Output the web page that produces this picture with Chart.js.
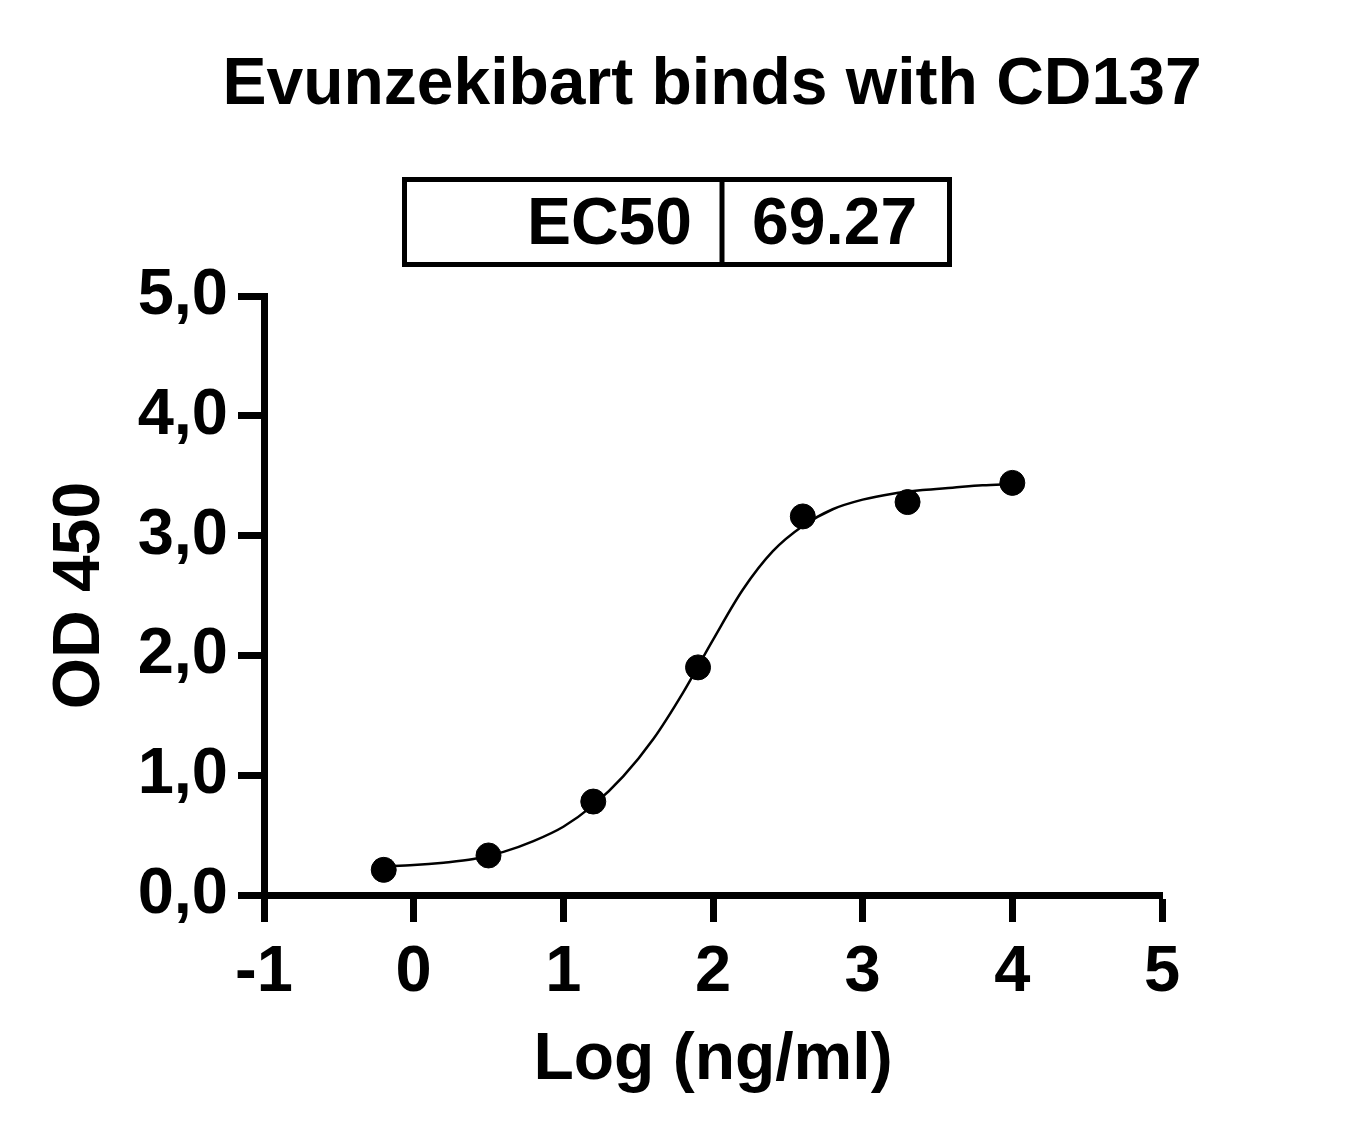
<!DOCTYPE html>
<html>
<head>
<meta charset="utf-8">
<script src="https://cdn.jsdelivr.net/npm/chart.js@4.4.1/dist/chart.umd.min.js"></script>
<style>
  html, body { margin: 0; padding: 0; background: #fff; }
  canvas { display: block; }
</style>
</head>
<body>
<canvas id="ec50Chart" width="1362" height="1142"></canvas>
<script>
// measured points
const logConc = [-0.2, 0.5, 1.2, 1.9, 2.6, 3.3, 4.0];
const od450 = [0.21, 0.33, 0.78, 1.90, 3.16, 3.28, 3.44];

// fitted curve
const curveX = [-0.2, 0.0, 0.2, 0.4, 0.6, 0.8, 1.0, 1.2, 1.4, 1.6, 1.8, 2.0, 2.2, 2.4, 2.6, 2.8, 3.0, 3.2, 3.4, 3.6, 3.8, 4.0];
const curveY = [0.24, 0.25, 0.27, 0.30, 0.36, 0.45, 0.57, 0.75, 0.99, 1.30, 1.69, 2.13, 2.55, 2.87, 3.08, 3.22, 3.30, 3.35, 3.38, 3.40, 3.42, 3.43];

const xTicks = [-1, 0, 1, 2, 3, 4, 5];
const yTicks = [0, 1, 2, 3, 4, 5];

const chartTitle = "Evunzekibart binds with CD137";
const ec50Label = "EC50";
const ec50Value = "69.27";

const FONT = '"Liberation Sans", Arial, sans-serif';

// title + EC50 box on top
const extras = {
    id: "extras",
    afterDraw(chart) {
        const ctx = chart.ctx;
        ctx.save();
        ctx.fillStyle = "#000";
        ctx.font = "bold 66px " + FONT;
        ctx.textAlign = "center";
        ctx.textBaseline = "alphabetic";
        ctx.fillText(chartTitle, 712, 104);

        ctx.strokeStyle = "#000";
        ctx.lineWidth = 5;
        ctx.strokeRect(404.5, 179.5, 545, 85);
        ctx.beginPath();
        ctx.moveTo(722, 179.5);
        ctx.lineTo(722, 264.5);
        ctx.stroke();

        ctx.font = "bold 66px " + FONT;
        ctx.textAlign = "right";
        ctx.fillText(ec50Label, 692, 244);
        ctx.textAlign = "left";
        ctx.fillText(ec50Value, 752, 244);
        ctx.restore();
    }
};

new Chart(document.getElementById("ec50Chart"), {
    type: "scatter",
    data: {
        datasets: [
            {
                label: "OD 450",
                data: logConc.map((x, i) => ({ x: x, y: od450[i] })),
                backgroundColor: "#000",
                borderColor: "#000",
                pointRadius: 12.5,
                pointHoverRadius: 12.5
            },
            {
                label: "fit",
                data: curveX.map((x, i) => ({ x: x, y: curveY[i] })),
                showLine: true,
                borderColor: "#000",
                borderWidth: 2.5,
                pointRadius: 0,
                cubicInterpolationMode: "monotone",
                fill: false
            }
        ]
    },
    options: {
        responsive: false,
        animation: false,
        devicePixelRatio: 1,
        layout: { padding: { top: 296, right: 200, left: 0, bottom: 0 } },
        plugins: {
            legend: { display: false },
            tooltip: { enabled: false },
            title: { display: false }
        },
        scales: {
            x: {
                type: "linear",
                min: -1,
                max: 5,
                afterFit(scale) { scale.height = 247; },
                afterBuildTicks(scale) { scale.ticks = xTicks.map(v => ({ value: v })); },
                border: { display: true, color: "#000", width: 7 },
                grid: { drawOnChartArea: false, drawTicks: true, tickLength: 27, tickWidth: 7, tickColor: "#000" },
                ticks: { color: "#000", padding: 12, font: { family: FONT, size: 65, weight: "bold" } },
                title: {
                    display: true,
                    text: "Log (ng/ml)",
                    color: "#000",
                    padding: { top: 0, bottom: 42 },
                    font: { family: FONT, size: 66, weight: "bold" }
                }
            },
            y: {
                type: "linear",
                min: 0,
                max: 5,
                afterFit(scale) { scale.width = 264; },
                afterBuildTicks(scale) { scale.ticks = yTicks.map(v => ({ value: v })); },
                border: { display: true, color: "#000", width: 7 },
                grid: { drawOnChartArea: false, drawTicks: true, tickLength: 26, tickWidth: 7, tickColor: "#000" },
                ticks: {
                    color: "#000",
                    padding: 10,
                    font: { family: FONT, size: 65, weight: "bold" },
                    callback: v => v.toFixed(1).replace(".", ",")
                },
                title: {
                    display: true,
                    text: "OD 450",
                    color: "#000",
                    padding: { top: 41, bottom: 0 },
                    font: { family: FONT, size: 66, weight: "bold" }
                }
            }
        }
    },
    plugins: [extras]
});
</script>
</body>
</html>
